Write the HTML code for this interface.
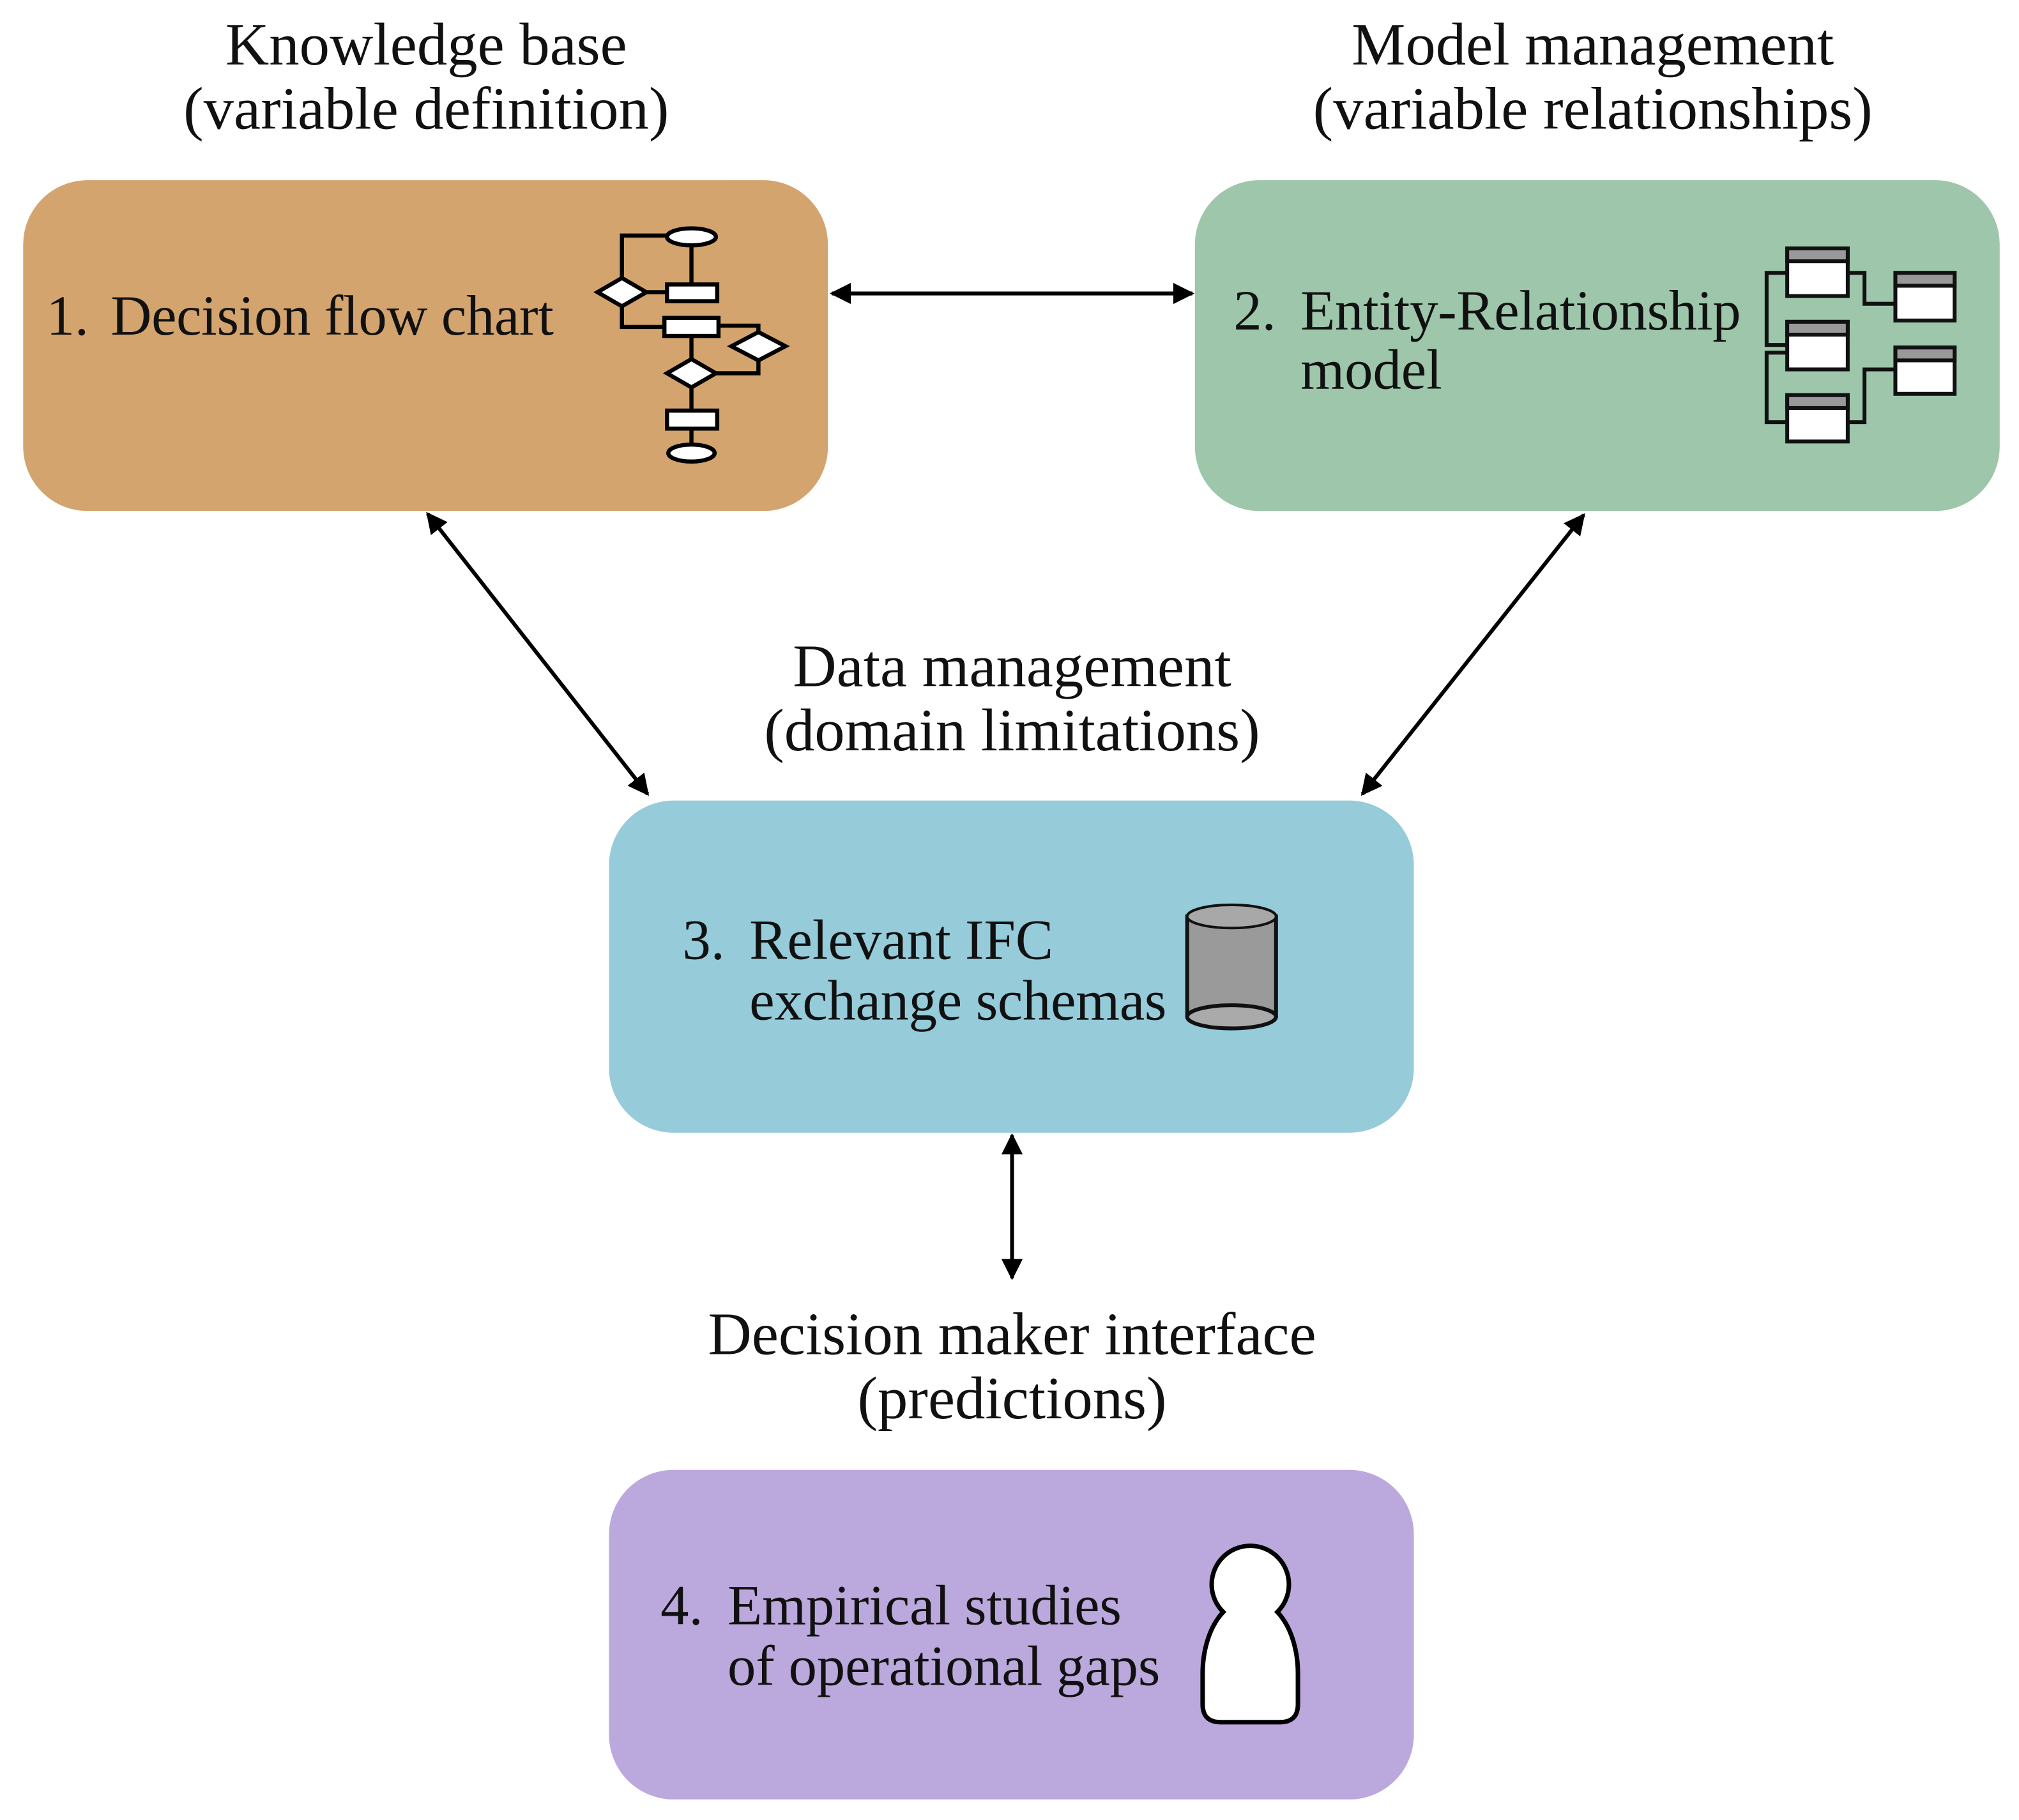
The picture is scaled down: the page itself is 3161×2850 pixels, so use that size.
<!DOCTYPE html>
<html><head><meta charset="utf-8"><style>
html,body{margin:0;padding:0;background:#fff;}
svg{display:block;}
text{font-family:"Liberation Serif",serif;fill:#111;}
</style></head><body>
<svg width="3161" height="2850" viewBox="0 0 1568 1414" preserveAspectRatio="none" xmlns="http://www.w3.org/2000/svg">
<defs>
<marker id="ah" viewBox="0 0 10 10" refX="9" refY="5" markerWidth="5.5" markerHeight="5.5" orient="auto-start-reverse" markerUnits="strokeWidth">
<path d="M0,0 L10,5 L0,10 z" fill="#000"/></marker>
</defs>
<g font-size="47" text-anchor="middle">
<text x="331" y="50">Knowledge base</text>
<text x="331" y="100">(variable definition)</text>
<text x="1237" y="50">Model management</text>
<text x="1237" y="100">(variable relationships)</text>
<text x="786" y="533">Data management</text>
<text x="786" y="583">(domain limitations)</text>
<text x="786" y="1052">Decision maker interface</text>
<text x="786" y="1102">(predictions)</text>
</g>
<rect x="18" y="140" width="625" height="257" rx="50" fill="#D4A46E"/>
<rect x="928" y="140" width="625" height="257" rx="50" fill="#9DC6AB"/>
<rect x="473" y="622" width="625" height="258" rx="50" fill="#96CBDA"/>
<rect x="473" y="1142" width="625" height="256" rx="50" fill="#BBA8DD"/>
<g font-size="44">
<text x="36" y="260">1.</text><text x="86" y="260" textLength="344">Decision flow chart</text>
<text x="958" y="256">2.</text><text x="1010" y="256" textLength="342">Entity-Relationship</text>
<text x="1010" y="302">model</text>
<text x="530" y="745">3.</text><text x="582" y="745" textLength="236">Relevant IFC</text>
<text x="582" y="792" textLength="324">exchange schemas</text>
<text x="513" y="1262">4.</text><text x="565" y="1262" textLength="306">Empirical studies</text>
<text x="565" y="1309" textLength="336">of operational gaps</text>
</g>
<g stroke="#000" stroke-width="3" fill="none">
<line x1="646" y1="228" x2="926" y2="228" marker-start="url(#ah)" marker-end="url(#ah)"/>
<line x1="332" y1="399" x2="503" y2="617" marker-start="url(#ah)" marker-end="url(#ah)"/>
<line x1="1230" y1="400" x2="1058" y2="617" marker-start="url(#ah)" marker-end="url(#ah)"/>
<line x1="786" y1="882" x2="786" y2="993" marker-start="url(#ah)" marker-end="url(#ah)"/>
</g>
<g stroke="#000" stroke-width="3.2" fill="#fff">
<polyline fill="none" points="518,183 483,183 483,216"/>
<line x1="537" y1="190" x2="537" y2="221"/>
<line x1="502" y1="227" x2="518" y2="227"/>
<polyline fill="none" points="483,238 483,254 516,254"/>
<polyline fill="none" points="558,253 589,253 589,258"/>
<line x1="537" y1="261" x2="537" y2="279"/>
<polyline fill="none" points="556,290 589,290 589,280"/>
<line x1="537" y1="301" x2="537" y2="319"/>
<line x1="537" y1="333" x2="537" y2="346"/>
<ellipse cx="537" cy="184" rx="19" ry="6.6"/>
<rect x="518" y="221" width="39" height="13"/>
<polygon points="464,227 483,216 502,227 483,238"/>
<rect x="516" y="247" width="42" height="14"/>
<polygon points="568,269 589,258 610,269 589,280"/>
<polygon points="518,290 537,279 556,290 537,301"/>
<rect x="518" y="319" width="39" height="14"/>
<ellipse cx="537" cy="352" rx="18" ry="6.6"/>
</g>
<g stroke="#111" stroke-width="3" fill="none">
<polyline points="1388,212 1372,212 1372,268 1388,268"/>
<polyline points="1388,274 1372,274 1372,328 1388,328"/>
<polyline points="1435,212 1448,212 1448,236 1472,236"/>
<polyline points="1435,328 1448,328 1448,287 1472,287"/>
</g>
<g stroke="#111" stroke-width="3">
<rect x="1388" y="193" width="47" height="37" fill="#fff"/><rect x="1388" y="193" width="47" height="10" fill="#999"/>
<rect x="1388" y="250" width="47" height="37" fill="#fff"/><rect x="1388" y="250" width="47" height="10" fill="#999"/>
<rect x="1388" y="307" width="47" height="36" fill="#fff"/><rect x="1388" y="307" width="47" height="10" fill="#999"/>
<rect x="1472" y="212" width="46" height="37" fill="#fff"/><rect x="1472" y="212" width="46" height="10" fill="#999"/>
<rect x="1472" y="270" width="46" height="36" fill="#fff"/><rect x="1472" y="270" width="46" height="10" fill="#999"/>
</g>
<g stroke="#111" stroke-width="3">
<path d="M922,712 L922,790 A35,10 0 0 0 991,790 L991,712 Z" fill="#9a9a9a"/>
<ellipse cx="956.5" cy="790" rx="34.5" ry="9" fill="#aaa"/>
<ellipse cx="956.5" cy="712" rx="34.5" ry="9" fill="#a8a8a8" stroke-width="2"/>
</g>
<path d="M950,1252.4 A30,30 0 1 1 992,1252.4 C1004,1265 1008,1285 1008,1300 L1008,1324 Q1008,1338 994,1338 L948,1338 Q934,1338 934,1324 L934,1300 C934,1285 938,1265 950,1252.4 Z" fill="#fff" stroke="#000" stroke-width="3.5"/>
</svg>
</body></html>
